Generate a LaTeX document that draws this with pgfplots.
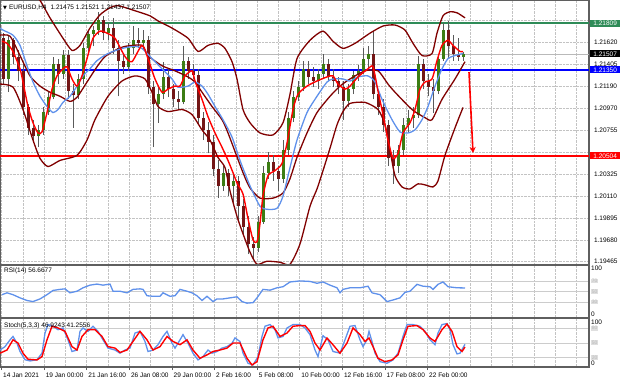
\documentclass[border=0pt]{standalone}
\usepackage{pgfplots}
\pgfplotsset{compat=1.18}
\usepackage{pgfplotstable}
\usepackage{fontspec}
\setmainfont{Liberation Sans}
\newfontfamily\dejavu{DejaVu Sans}
\usetikzlibrary{arrows.meta}

\definecolor{bbred}{RGB}{128,0,0}
\definecolor{maBlue}{RGB}{95,145,235}
\definecolor{bull}{RGB}{60,125,20}
\definecolor{bear}{RGB}{115,22,22}
\definecolor{wick}{RGB}{90,90,90}
\definecolor{lineGreen}{RGB}{46,139,87}
\definecolor{frameGray}{RGB}{95,95,95}
\definecolor{gridGray}{RGB}{195,195,195}

% candles: x (px position), open, high, low, close
\pgfplotstableread{
x o h l c
3 1.2166 1.2171 1.2121 1.2126
8 1.2126 1.2168 1.2113 1.2164
13 1.2164 1.2166 1.2141 1.2148
18 1.2148 1.2154 1.2124 1.2134
23 1.2134 1.2141 1.2091 1.2098
28 1.2098 1.2101 1.2071 1.2078
33 1.2078 1.2086 1.2064 1.2070
38 1.2070 1.2081 1.2059 1.2076
43 1.2076 1.2098 1.2071 1.2094
48 1.2094 1.2114 1.2091 1.2108
53 1.2108 1.2148 1.2106 1.2141
58 1.2141 1.2146 1.2121 1.2131
63 1.2131 1.2154 1.2126 1.2150
68 1.2150 1.2154 1.2106 1.2114
73 1.2114 1.2121 1.2078 1.2110
78 1.2110 1.2131 1.2106 1.2126
83 1.2126 1.2161 1.2121 1.2156
88 1.2156 1.2174 1.2151 1.2170
93 1.2170 1.2178 1.2158 1.2174
98 1.2174 1.2192 1.2169 1.2184
103 1.2184 1.2188 1.2164 1.2171
108 1.2171 1.2181 1.2164 1.2176
113 1.2176 1.2186 1.2151 1.2156
118 1.2156 1.2164 1.2109 1.2144
123 1.2144 1.2151 1.2131 1.2138
128 1.2138 1.2161 1.2134 1.2156
133 1.2156 1.2178 1.2151 1.2164
138 1.2164 1.2176 1.2156 1.2161
143 1.2161 1.2174 1.2154 1.2164
148 1.2164 1.2168 1.2111 1.2118
153 1.2118 1.2124 1.2059 1.2101
158 1.2101 1.2118 1.2083 1.2111
163 1.2111 1.2143 1.2106 1.2128
168 1.2128 1.2136 1.2108 1.2116
173 1.2116 1.2121 1.2098 1.2106
178 1.2106 1.2114 1.2096 1.2103
183 1.2103 1.2158 1.2101 1.2144
188 1.2144 1.2148 1.2126 1.2134
193 1.2134 1.2141 1.2126 1.2130
198 1.2130 1.2136 1.2081 1.2088
203 1.2088 1.2094 1.2066 1.2076
208 1.2076 1.2084 1.2053 1.2064
213 1.2064 1.2071 1.2031 1.2038
218 1.2038 1.2046 1.2009 1.2021
223 1.2021 1.2041 1.2016 1.2034
228 1.2034 1.2038 1.2011 1.2021
233 1.2021 1.2034 1.2003 1.2026
238 1.2026 1.2031 1.1986 1.2001
243 1.2001 1.2008 1.1974 1.1981
248 1.1981 1.1991 1.1954 1.1964
253 1.1964 1.1971 1.1949 1.1960
258 1.1960 1.1991 1.1956 1.1986
263 1.1986 1.2041 1.1984 1.2034
268 1.2034 1.2054 1.2028 1.2044
273 1.2044 1.2051 1.2026 1.2036
278 1.2036 1.2041 1.2016 1.2028
283 1.2028 1.2066 1.2024 1.2056
288 1.2056 1.2094 1.2051 1.2088
293 1.2088 1.2114 1.2084 1.2108
298 1.2108 1.2124 1.2104 1.2118
303 1.2118 1.2144 1.2114 1.2136
308 1.2136 1.2144 1.2121 1.2128
313 1.2128 1.2138 1.2118 1.2124
318 1.2124 1.2136 1.2116 1.2131
323 1.2131 1.2151 1.2126 1.2141
328 1.2141 1.2146 1.2124 1.2128
333 1.2128 1.2136 1.2118 1.2124
338 1.2124 1.2128 1.2111 1.2118
343 1.2118 1.2124 1.2086 1.2104
348 1.2104 1.2121 1.2098 1.2116
353 1.2116 1.2134 1.2111 1.2130
358 1.2130 1.2140 1.2124 1.2134
363 1.2134 1.2156 1.2131 1.2146
368 1.2146 1.2158 1.2136 1.2151
373 1.2151 1.2173 1.2106 1.2111
378 1.2111 1.2116 1.2091 1.2098
383 1.2098 1.2106 1.2074 1.2081
388 1.2081 1.2086 1.2041 1.2048
393 1.2048 1.2056 1.2023 1.2041
398 1.2041 1.2061 1.2034 1.2056
403 1.2056 1.2088 1.2051 1.2081
408 1.2081 1.2096 1.2074 1.2088
413 1.2088 1.2098 1.2078 1.2091
418 1.2091 1.2149 1.2088 1.2141
423 1.2141 1.2146 1.2116 1.2124
428 1.2124 1.2131 1.2109 1.2118
433 1.2118 1.2126 1.2093 1.2114
438 1.2114 1.2151 1.2111 1.2146
443 1.2146 1.2181 1.2144 1.2174
448 1.2174 1.2183 1.2146 1.2158
453 1.2158 1.2169 1.2144 1.2151
458 1.2151 1.2166 1.2144 1.2148
463 1.21475 1.21521 1.21437 1.21507
}\candles

\pgfplotstableread{
x y
2 1.2163
7 1.2161
13 1.2153
20 1.2136
23 1.2123
28 1.2099
33 1.2083
38 1.2073
42 1.2074
47 1.2093
52 1.2116
57 1.2129
63 1.2136
67 1.2138
72 1.2126
77 1.2119
82 1.2129
87 1.2146
93 1.2166
100 1.2173
107 1.2171
115 1.2166
125 1.2148
132 1.2143
142 1.2159
148 1.2146
155 1.2126
162 1.2113
168 1.2116
175 1.2119
180 1.2119
185 1.2129
192 1.2134
195 1.2124
202 1.2106
208 1.2089
215 1.2073
222 1.2059
228 1.2046
233 1.2034
237 1.2024
243 1.2013
248 1.1989
253 1.1968
257 1.1966
260 1.1984
263 1.2011
268 1.2031
275 1.2036
282 1.2043
287 1.2063
293 1.2096
298 1.2111
307 1.2119
317 1.2124
327 1.2128
333 1.2129
338 1.2121
345 1.2116
350 1.2119
358 1.2128
368 1.2136
373 1.2138
378 1.2114
383 1.2091
388 1.2066
393 1.2048
398 1.2053
403 1.2073
410 1.2083
415 1.2096
420 1.2116
425 1.2123
432 1.2126
437 1.2144
442 1.2159
448 1.2164
453 1.2159
460 1.2153
463 1.2153
}\maRed

\pgfplotstableread{
x y
0 1.2176
3 1.2174
13 1.2169
20 1.2159
27 1.2139
33 1.2123
40 1.2109
47 1.2099
53 1.2093
58 1.2096
63 1.2103
70 1.2109
77 1.2119
83 1.2129
90 1.2136
97 1.2144
108 1.2151
122 1.2156
135 1.2158
142 1.2156
152 1.2146
162 1.2136
172 1.2126
178 1.2118
188 1.2119
195 1.2123
202 1.2119
208 1.2111
215 1.2099
223 1.2086
232 1.2069
240 1.2046
250 1.2021
260 1.2001
267 1.1998
277 1.1999
283 1.2011
290 1.2039
297 1.2066
307 1.2093
317 1.2109
327 1.2123
333 1.2126
343 1.2126
350 1.2124
358 1.2128
368 1.2129
375 1.2123
382 1.2106
392 1.2086
400 1.2074
408 1.2073
415 1.2076
422 1.2086
428 1.2099
435 1.2119
442 1.2136
448 1.2146
455 1.2149
463 1.2151
}\maBlueTab

\pgfplotstableread{
x y
0 1.2236
20 1.2221
38 1.2206
50 1.2186
63 1.2166
72 1.2154
80 1.2159
90 1.2176
100 1.2189
110 1.2196
118 1.2198
135 1.2193
150 1.2188
158 1.2183
172 1.2176
188 1.2166
198 1.2153
208 1.2159
218 1.2161
225 1.2156
232 1.2143
237 1.2126
243 1.2096
250 1.2083
260 1.2073
273 1.2071
283 1.2083
290 1.2111
297 1.2146
310 1.2164
323 1.2173
333 1.2163
343 1.2156
355 1.2161
370 1.2171
383 1.2178
395 1.2179
405 1.2174
413 1.2161
422 1.2149
432 1.2151
437 1.2171
443 1.2188
450 1.2192
457 1.2191
465 1.2186
}\bbUp

\pgfplotstableread{
x y
0 1.2169
10 1.2168
20 1.2149
30 1.2129
40 1.2119
50 1.2113
60 1.2109
70 1.2104
77 1.2108
87 1.2123
97 1.2138
105 1.2148
115 1.2154
125 1.2158
142 1.2159
148 1.2149
162 1.2139
175 1.2134
188 1.2128
195 1.2123
202 1.2113
212 1.2099
222 1.2086
228 1.2073
243 1.2034
250 1.2019
260 1.2009
273 1.2009
283 1.2014
290 1.2028
297 1.2049
307 1.2073
317 1.2093
330 1.2109
340 1.2119
350 1.2126
365 1.2134
378 1.2134
388 1.2121
395 1.2113
412 1.2096
425 1.2088
432 1.2086
442 1.2106
455 1.2126
465 1.2143
}\bbMid

\pgfplotstableread{
x y
0 1.2121
13 1.2118
23 1.2096
33 1.2066
40 1.2048
48 1.2040
60 1.2046
77 1.2051
87 1.2066
95 1.2086
108 1.2109
122 1.2124
135 1.2129
145 1.2126
152 1.2113
158 1.2099
168 1.2094
182 1.2096
192 1.2091
202 1.2076
210 1.2066
218 1.2049
225 1.2039
230 1.2016
237 1.1991
243 1.1974
250 1.1956
257 1.1944
267 1.1947
280 1.1946
290 1.1944
300 1.1964
310 1.2001
317 1.2018
323 1.2036
330 1.2058
337 1.2081
343 1.2094
350 1.2102
365 1.2103
378 1.2096
385 1.2081
390 1.2056
395 1.2031
402 1.2020
410 1.2018
418 1.2023
425 1.2022
433 1.2020
438 1.2026
445 1.2051
455 1.2078
463 1.2098
}\bbLow

\pgfplotstableread{
x v
2 44
7 47.5
13 44
20 38
27 33
33 31
40 36
47 44
53 52
60 54
65 55
70 47.5
77 50.5
83 57
90 62
97 64
103 62
110 64
113 50.5
120 50.5
127 47.5
133 54
140 55
143 54
147 42
153 41
160 41
163 47.5
170 41
175 42
180 54
187 50.5
192 47.5
197 42
202 33
207 41
213 31
217 36
223 36
230 38
237 40
242 31
247 28
253 29
257 38
263 54
270 52.5
277 57
283 59
290 68
300 70
310 69
317 65.5
323 68
330 62
337 57
340 47.5
343 54
350 57
360 57
368 60
372 47.5
380 44
387 31
393 34
400 38
405 48.5
410 50.5
417 63.5
423 60
430 59
433 54
438 63.5
443 68
448 59
457 57
465 56.7
}\rsi

\pgfplotstableread{
x v
0 35
5 42
10 56
13 63
17 49
20 32
25 15
30 12.5
37 15
42 28.5
45 70
48 87.5
53 84
58 77
63 80.5
68 56
72 32
77 35
80 73.5
83 80.5
88 73.5
93 84
98 73.5
103 56
108 39
115 35
120 28.5
125 35
130 39
135 70
140 73.5
145 52.5
148 32
153 35
158 46
163 63
167 73.5
172 49
175 39
180 56
183 66.7
188 49
193 28.5
198 14.6
203 21.5
208 35
212 28.5
217 32
222 39
227 42
232 49
235 60
240 52.5
243 28.5
248 7.7
253 4.2
258 21.5
262 63
265 84
270 87.5
275 77
278 60
283 63
287 80.5
293 87.5
300 87.5
305 80.5
310 66.7
315 35
318 21.5
323 64.6
328 56
333 32
340 28.5
345 56
350 84
355 85.4
360 56
363 42
367 56
369 73.5
372 52.5
375 28.5
380 11
387 7.7
393 14.6
398 28.5
403 63
407 87.5
413 87.5
420 84
425 73.5
430 56
435 46
438 70
442 87.5
447 89.6
450 77
453 46
457 27
460 28.5
465 46.9
}\stochK

\pgfplotstableread{
x v
0 28.5
7 35
13 56
18 49.4
23 28.5
28 16
37 14.6
42 21.5
47 56
52 84
58 80.5
65 73.5
72 42
77 35
82 63
88 77
95 77
102 63
108 42
115 39
120 30
127 35
133 52.7
140 73.5
147 56
153 35
160 42
167 63
173 52.7
180 46
187 56
193 35
200 18
207 25
213 32
220 35
227 39
233 49.4
240 49.4
247 18
252 4.2
257 11
263 56
268 80.5
273 84
280 63
287 70
293 84
300 85.4
305 85.4
310 73.5
315 49.4
320 35
327 59.8
333 45.8
340 28.5
347 49.4
353 80.5
360 66.7
365 52.7
369 59.8
373 42
378 18
385 11
392 14.6
398 25
403 56
408 84
417 85.4
423 77
430 59.8
435 52.7
442 77
447 88.5
452 73.5
457 42
462 32
465 41.3
}\stochD

\pgfplotsset{
  panel/.style={
    scale only axis, width=589pt, xmin=0, xmax=589, anchor=south west,
    axis line style={frameGray, line width=1.2pt},
    tick label style={font=\fontsize{6.5}{7}\selectfont, text=black},
    major tick length=0pt, minor tick length=0pt,
    xtick={1.5,22.8,...,590}, xticklabels={},
    ymajorgrids, xmajorgrids,
    major x grid style={densely dotted, gridGray, line width=0.6pt},
    major y grid style={densely dotted, gridGray, line width=0.6pt},
    ytick pos=right, xtick pos=bottom,
    clip mode=individual,
  },
}

\begin{document}
\begin{tikzpicture}
\useasboundingbox (0pt,0pt) rectangle (620pt,383pt);

% ---------------- main price panel ----------------
\begin{axis}[panel, name=mainax, at={(0pt,118.5pt)}, height=264.5pt,
  ymin=1.19438, ymax=1.220355,
  ytick={1.21835,1.21620,1.21405,1.21190,1.20970,1.20755,1.20540,1.20325,1.20110,1.19895,1.19680,1.19465},
  yticklabels={,1.21620,1.21405,1.21190,1.20970,1.20755,,1.20325,1.20110,1.19895,1.19680,1.19465},
  yticklabel style={anchor=west, xshift=1.5pt},
]
% level lines
\addplot[gray!55, line width=0.5pt] coordinates {(0,1.21507) (589,1.21507)};
\addplot[lineGreen, line width=1.2pt] coordinates {(0,1.21809) (589,1.21809)};
\addplot[blue, line width=1.8pt] coordinates {(0,1.21350) (589,1.21350)};
\addplot[red, line width=1.2pt] coordinates {(0,1.20504) (589,1.20504)};
% wicks
\addplot[draw=none, mark=none, forget plot,
  error bars/.cd, y dir=plus, y explicit, error mark=none,
  error bar style={draw=wick, line width=0.7pt, solid}]
  table[x=x, y=l, y error expr=\thisrow{h}-\thisrow{l}] {\candles};
% bull bodies
\addplot[draw=none, mark=none, forget plot,
  restrict expr to domain={\thisrow{c}-\thisrow{o}}{0:1},
  error bars/.cd, y dir=plus, y explicit, error mark=none,
  error bar style={draw=bull, line width=3pt, solid}]
  table[x=x, y=o, y error expr=\thisrow{c}-\thisrow{o}] {\candles};
% bear bodies
\addplot[draw=none, mark=none, forget plot,
  restrict expr to domain={\thisrow{o}-\thisrow{c}}{0:1},
  error bars/.cd, y dir=plus, y explicit, error mark=none,
  error bar style={draw=bear, line width=3pt, solid}]
  table[x=x, y=c, y error expr=\thisrow{o}-\thisrow{c}] {\candles};
% Bollinger bands
\addplot[bbred, line width=1.3pt, smooth, tension=0.4] table[x=x,y=y] {\bbUp};
\addplot[bbred, line width=1.3pt, smooth, tension=0.4] table[x=x,y=y] {\bbMid};
\addplot[bbred, line width=1.3pt, smooth, tension=0.4] table[x=x,y=y] {\bbLow};
% moving averages
\addplot[maBlue, line width=1.3pt, smooth, tension=0.4] table[x=x,y=y] {\maBlueTab};
\addplot[red, line width=1.4pt, smooth, tension=0.4] table[x=x,y=y] {\maRed};
% arrow
\addplot[red, line width=1.6pt, -{Stealth[length=6pt,width=6pt]}] coordinates {(469,1.21328) (473,1.20533)};
\coordinate (pg) at (axis cs:589,1.21809);
\coordinate (pk) at (axis cs:589,1.21507);
\coordinate (pb) at (axis cs:589,1.21350);
\coordinate (pr) at (axis cs:589,1.20504);
\end{axis}

% ---------------- RSI panel ----------------
\begin{axis}[panel, name=rsiax, at={(0pt,65pt)}, height=53pt,
  ymin=0, ymax=100, ytick={30,50,70}, yticklabels={},
  major y grid style={solid, gray!40, line width=0.5pt},
]
\addplot[maBlue, line width=1.3pt] table[x=x,y=v] {\rsi};
\coordinate (r100) at (axis cs:589,100);
\coordinate (r70) at (axis cs:589,70);
\coordinate (r50) at (axis cs:589,50);
\coordinate (r30) at (axis cs:589,30);
\coordinate (r0) at (axis cs:589,0);
\end{axis}

% ---------------- Stochastic panel ----------------
\begin{axis}[panel, name=stax, at={(0pt,16pt)}, height=48.5pt,
  ymin=0, ymax=100, ytick={20,50,80}, yticklabels={},
  major y grid style={solid, gray!40, line width=0.5pt},
  xtick={1.5,44.1,86.7,129.3,171.9,214.5,257.1,299.7,342.3,384.9,427.5},
  xticklabels={14 Jan 2021,19 Jan 00:00,21 Jan 16:00,26 Jan 08:00,29 Jan 00:00,2 Feb 16:00,5 Feb 08:00,10 Feb 00:00,12 Feb 16:00,17 Feb 08:00,22 Feb 00:00},
  minor xtick={22.8,65.4,108,150.6,193.2,235.8,278.4,321,363.6,406.2,448.8,470.1,491.4,512.7,534,555.3,576.6},
  xminorgrids,
  minor x grid style={densely dotted, gridGray, line width=0.6pt},
  x tick style={draw=frameGray, line width=0.6pt}, y tick style={draw=none},
  major tick length=3pt, tick align=outside,
  xticklabel style={anchor=north west, xshift=-1.8pt, yshift=1pt},
]
\addplot[maBlue, line width=1.3pt] table[x=x,y=v] {\stochK};
\addplot[red, line width=1.4pt] table[x=x,y=v] {\stochD};
\coordinate (s100) at (axis cs:589,100);
\coordinate (s80) at (axis cs:589,80);
\coordinate (s50) at (axis cs:589,50);
\coordinate (s20) at (axis cs:589,20);
\coordinate (s0) at (axis cs:589,0);
\end{axis}

% ---------------- labels and boxes ----------------
\tikzset{pbox/.style={anchor=west, xshift=1pt, text=white, inner xsep=1.6pt, inner ysep=1.2pt,
  minimum width=30pt, font=\fontsize{6.5}{7}\selectfont}}
\node[pbox, fill=lineGreen] at (pg) {1.21809};
\node[pbox, fill=black] at (pk) {1.21507};
\node[pbox, fill=blue] at (pb) {1.21350};
\node[pbox, fill=red] at (pr) {1.20504};

\tikzset{sl/.style={anchor=west, xshift=1.5pt, inner sep=0.5pt, font=\fontsize{6.5}{7}\selectfont},
  gb/.style={anchor=west, xshift=2pt, inner sep=0.6pt, fill=gray!25, text=gray!55, font=\fontsize{5}{5}\selectfont}}
\node[sl, anchor=north west, yshift=-0.5pt] at (r100) {100};
\node[sl, anchor=south west, yshift=0.5pt] at (r0) {0};
\node[gb] at (r70) {70};
\node[gb] at (r50) {50};
\node[gb] at (r30) {30};
\node[sl, anchor=north west, yshift=-0.5pt] at (s100) {100};
\node[sl, anchor=south west, yshift=0.5pt] at (s0) {0};
\node[gb] at (s80) {80};
\node[gb] at (s50) {50};
\node[gb] at (s20) {20};

\node[anchor=west, inner sep=0pt, font=\fontsize{6.5}{7}\selectfont] at (3pt,375pt)
  {{\dejavu\fontsize{5}{5}\selectfont ▼}\hspace{2pt}EURUSD,H4\hspace{4pt}1.21475 1.21521 1.21437 1.21507};
\node[anchor=west, inner sep=0pt, font=\fontsize{6.5}{7}\selectfont] at (4pt,112pt) {RSI(14) 56.6677};
\node[anchor=west, inner sep=0pt, font=\fontsize{6.5}{7}\selectfont] at (4pt,57.5pt) {Stoch(5,3,3) 46.9243 41.2556};
\end{tikzpicture}
\end{document}
